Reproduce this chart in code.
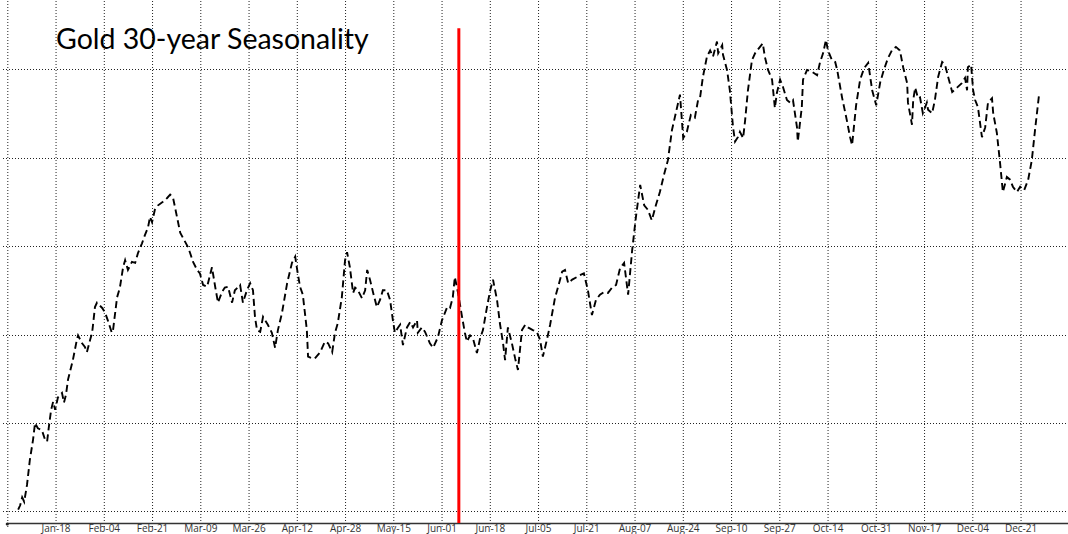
<!DOCTYPE html>
<html>
<head>
<meta charset="utf-8">
<script src="https://cdn.jsdelivr.net/npm/d3@7"></script>
<style>
  body { margin: 0; background: #fff; }
  svg { display: block; font-family: Lato, 'Open Sans', sans-serif; }
</style>
</head>
<body>
<svg></svg>
<script>
'use strict'

const title = 'Gold 30-year Seasonality'

// one label every 12 trading days, first tick (day 0) has no label
const tickLabels = ['Jan-18', 'Feb-04', 'Feb-21', 'Mar-09', 'Mar-26', 'Apr-12', 'Apr-28',
  'May-15', 'Jun-01', 'Jun-18', 'Jul-05', 'Jul-21', 'Aug-07', 'Aug-24', 'Sep-10',
  'Sep-27', 'Oct-14', 'Oct-31', 'Nov-17', 'Dec-04', 'Dec-21']
const tickStep = 12
const totalDays = 264

// horizontal grid, cumulative average return (%)
const gridValues = [0, 1, 2, 3, 4, 5]

// "today" marker
const todayDay = 112.3
const todayTop = 5.46

// trading day of year
const days = [2.7, 3.2, 3.7, 4.2, 4.9, 5.6, 6.4, 6.9, 7.6, 8.6, 9.4, 9.9, 10.4, 10.9, 11.4, 11.9, 12.6, 13.6, 14.1, 14.6, 15.1,
  16.3, 17.3, 17.6, 18.6, 19.3, 19.8, 20.6, 21.1, 21.8, 22.3, 23.6, 24.3, 25.0, 26.0, 26.3, 27.3, 28.0, 28.8, 29.3, 30.0,
  31.0, 31.8, 32.5, 33.5, 34.2, 35.0, 35.5, 36.0, 36.7, 37.5, 38.7, 39.7, 40.5, 41.2, 42.2, 43.0, 44.2, 44.9, 45.4, 46.2,
  47.2, 47.9, 48.7, 49.7, 50.9, 51.7, 52.4, 53.4, 54.1, 54.9, 55.9, 56.6, 57.9, 58.6, 59.6, 60.4, 61.1, 61.6, 62.1, 62.9,
  63.6, 64.8, 65.8, 66.6, 67.3, 68.3, 69.6, 70.8, 71.6, 72.1, 72.8, 73.5, 74.5, 74.8, 75.8, 76.5, 77.8, 79.0, 79.8, 80.8,
  81.5, 82.2, 83.2, 84.0, 84.5, 85.2, 86.0, 86.5, 87.2, 88.2, 89.0, 89.5, 90.2, 91.0, 91.9, 92.7, 93.4, 94.4, 95.2, 95.9,
  96.4, 97.2, 97.7, 98.4, 99.4, 100.2, 100.9, 101.9, 102.1, 103.1, 103.9, 105.1, 105.9, 107.1, 108.1, 109.4, 110.1, 110.8,
  111.3, 112.1, 113.1, 113.8, 114.3, 115.1, 115.8, 116.8, 117.6, 118.3, 119.3, 120.1, 120.8, 121.8, 122.5, 123.3, 123.8,
  124.5, 125.5, 126.3, 127.0, 128.0, 128.8, 129.5, 130.7, 131.7, 132.5, 133.2, 134.2, 135.0, 136.2, 137.0, 138.0, 138.7,
  139.5, 140.5, 141.7, 142.4, 143.4, 144.4, 145.4, 146.4, 147.4, 148.4, 149.4, 150.4, 151.4, 152.4, 153.4, 154.4, 155.4,
  156.4, 157.4, 158.4, 159.3, 160.3, 161.3, 162.3, 163.3, 164.3, 165.3, 166.3, 167.3, 168.1, 169.0, 170.0, 171.0, 171.8,
  172.3, 173.0, 174.0, 174.8, 175.5, 176.5, 176.8, 177.8, 178.0, 179.0, 179.7, 180.5, 181.0, 181.7, 182.2, 183.0, 183.5,
  184.2, 185.2, 186.0, 187.2, 187.9, 188.4, 189.2, 190.2, 190.9, 191.4, 192.2, 192.9, 193.9, 194.7, 195.4, 196.4, 196.6,
  197.6, 197.9, 198.9, 200.1, 201.4, 202.1, 202.9, 203.6, 204.1, 205.1, 205.9, 206.4, 207.6, 208.8, 209.6, 210.1, 211.1,
  212.1, 213.1, 214.1, 215.1, 216.1, 217.1, 218.0, 219.0, 220.0, 221.0, 222.0, 222.8, 223.8, 224.0, 225.0, 225.3, 225.8,
  226.5, 227.0, 227.7, 228.7, 229.0, 230.0, 230.7, 231.5, 232.5, 233.2, 234.0, 235.0, 236.2, 237.4, 238.2, 238.7, 238.9,
  239.7, 240.2, 240.7, 241.4, 242.4, 243.2, 243.9, 244.9, 245.2, 246.1, 246.9, 247.6, 248.6, 249.4, 250.1, 251.1, 251.9,
  252.9, 253.9, 254.8, 255.6, 256.6]

const values = [0.02, 0.07, 0.16, 0.11, 0.30, 0.58, 0.81, 1.00, 0.94, 0.92, 0.81, 0.79, 0.98, 1.15, 1.24, 1.15, 1.29, 1.34, 1.23, 1.32, 1.49,
  1.71, 1.94, 1.99, 1.90, 1.86, 1.80, 1.94, 2.02, 2.31, 2.36, 2.30, 2.25, 2.16, 2.02, 2.05, 2.42, 2.53, 2.76, 2.84, 2.73,
  2.82, 2.81, 2.92, 3.03, 3.12, 3.21, 3.33, 3.27, 3.41, 3.46, 3.50, 3.54, 3.58, 3.55, 3.33, 3.15, 3.05, 2.99, 2.93, 2.82,
  2.73, 2.69, 2.56, 2.54, 2.76, 2.54, 2.36, 2.48, 2.53, 2.54, 2.36, 2.50, 2.56, 2.36, 2.50, 2.58, 2.50, 2.20, 2.05, 2.03,
  2.20, 2.11, 2.02, 1.85, 2.05, 2.24, 2.58, 2.81, 2.88, 2.73, 2.54, 2.45, 2.05, 1.75, 1.73, 1.73, 1.80, 1.92, 1.90, 1.80,
  2.02, 2.13, 2.42, 2.84, 2.93, 2.76, 2.47, 2.53, 2.50, 2.41, 2.50, 2.73, 2.62, 2.47, 2.31, 2.39, 2.50, 2.50, 2.39, 2.16,
  2.02, 2.08, 2.11, 1.88, 2.08, 2.14, 2.08, 2.16, 2.02, 2.08, 2.03, 1.90, 1.85, 1.97, 2.16, 2.31, 2.30, 2.42,
  2.65, 2.47, 2.20, 2.02, 1.92, 1.99, 1.96, 1.79, 1.96, 2.05, 2.31, 2.50, 2.62, 2.39, 2.13, 1.90, 1.71,
  2.08, 1.90, 1.73, 1.60, 2.05, 2.11, 2.08, 2.05, 2.03, 1.94, 1.75, 1.94, 2.11, 2.41, 2.54, 2.71, 2.73,
  2.58, 2.62, 2.65, 2.67, 2.69, 2.50, 2.22, 2.39, 2.45, 2.48, 2.47, 2.53, 2.56, 2.75, 2.81, 2.45, 2.95,
  3.35, 3.69, 3.46, 3.41, 3.29, 3.46, 3.61, 3.80, 3.97, 4.31, 4.51, 4.71, 4.22, 4.29, 4.48, 4.45, 4.65,
  4.68, 4.91, 5.14, 5.21, 5.14, 5.31, 5.18, 5.27, 5.16, 4.99, 4.76, 4.34, 4.18, 4.23, 4.29, 4.22, 4.42,
  4.76, 5.10, 5.18, 5.25, 5.29, 5.14, 4.99, 4.88, 4.56, 4.73, 4.88, 4.80, 4.65, 4.62, 4.65, 4.34, 4.18,
  4.57, 4.88, 4.99, 4.97, 4.93, 5.07, 5.18, 5.33, 5.21, 5.10, 5.08, 4.99, 4.68, 4.42, 4.23, 4.14, 4.59,
  4.88, 5.01, 5.07, 4.76, 4.59, 4.85, 4.99, 5.12, 5.21, 5.25, 5.21, 5.02, 4.84, 4.62, 4.37, 4.65, 4.79,
  4.67, 4.68, 4.50, 4.62, 4.54, 4.50, 4.65, 4.91, 5.08, 5.05, 4.91, 4.74, 4.79, 4.84, 4.90, 4.76, 5.02,
  5.05, 4.76, 4.65, 4.57, 4.23, 4.34, 4.62, 4.67, 4.50, 4.28, 3.94, 3.61, 3.78, 3.75, 3.67, 3.61, 3.67,
  3.63, 3.75, 3.97, 4.31, 4.71]

const width = 1068,
  height = 534

const margin = { top: 0, right: -0.8, bottom: 11, left: 7.3 }

const svg = d3
  .select('svg')
  .attr('width', width)
  .attr('height', height)

const xScale = d3
  .scaleLinear()
  .domain([0, totalDays])
  .range([margin.left, width - margin.right])

const yScale = d3
  .scaleLinear()
  .domain([-0.13, 5.78])
  .range([height - margin.bottom, margin.top])

const tickDays = d3.range(0, tickLabels.length + 1).map(i => i * tickStep)
const axisY = height - margin.bottom

// horizontal grid
svg
  .append('g')
  .attr('class', 'y-grid')
  .selectAll('line')
  .data(gridValues)
  .join('line')
  .attr('x1', 3)
  .attr('x2', width)
  .attr('y1', d => Math.round(yScale(d)) + 0.5)
  .attr('y2', d => Math.round(yScale(d)) + 0.5)
  .attr('stroke', '#222')
  .attr('stroke-width', 1)
  .attr('stroke-dasharray', '1,2')

// vertical grid + labels
const xAxis = svg
  .append('g')
  .attr('class', 'x-axis')
  .attr('transform', 'translate(0,' + axisY + ')')
  .call(
    d3
      .axisBottom(xScale)
      .tickValues(tickDays)
      .tickSizeInner(-axisY)
      .tickSizeOuter(0)
      .tickPadding(2)
      .tickFormat((d, i) => (i === 0 ? '' : tickLabels[i - 1]))
  )

xAxis.select('.domain').remove()

xAxis
  .selectAll('.tick line')
  .attr('y2', -axisY)
  .attr('y1', 4)
  .attr('stroke', '#222')
  .attr('stroke-dasharray', '1,2')

xAxis
  .selectAll('.tick text')
  .attr('y', 2)
  .attr('dy', '0.66em')
  .attr('fill', '#333')
  .style('font-size', '10px')
  .style('font-family', "'Open Sans', sans-serif")

// baseline
svg
  .append('line')
  .attr('x1', xScale(0))
  .attr('x2', width)
  .attr('y1', axisY + 0.5)
  .attr('y2', axisY + 0.5)
  .attr('stroke', '#333')
  .attr('stroke-width', 1.5)

svg
  .append('circle')
  .attr('cx', xScale(0))
  .attr('cy', axisY + 1)
  .attr('r', 1.6)
  .attr('fill', '#222')

// seasonal line
const line = d3
  .line()
  .x(d => xScale(d[0]))
  .y(d => yScale(d[1]))

svg
  .append('path')
  .datum(d3.zip(days, values))
  .attr('fill', 'none')
  .attr('stroke', '#000')
  .attr('stroke-width', 1.9)
  .attr('stroke-dasharray', '7,4')
  .attr('d', line)

// today marker
svg
  .append('line')
  .attr('x1', xScale(todayDay))
  .attr('x2', xScale(todayDay))
  .attr('y1', yScale(todayTop))
  .attr('y2', axisY)
  .attr('stroke', '#f00')
  .attr('stroke-width', 3)

svg
  .append('text')
  .attr('x', 56)
  .attr('y', 49)
  .attr('fill', '#000')
  .style('font-size', '28.5px')
  .text(title)
</script>
</body>
</html>
